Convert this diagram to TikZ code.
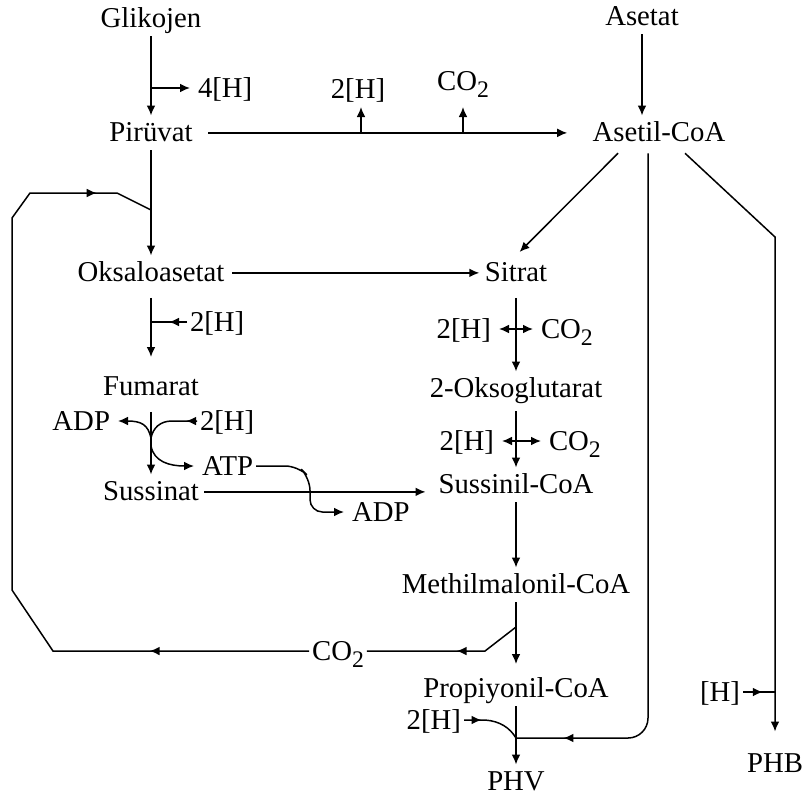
\documentclass[tikz,border=0pt]{standalone}
\usepackage{fontspec}
\setmainfont{Liberation Serif}
\usetikzlibrary{arrows.meta,calc,decorations.markings}
\newcommand{\cotwo}{CO\raisebox{-0.55ex}{\fontsize{9.5}{10}\selectfont 2}}

\begin{document}
\begin{tikzpicture}[
    x=0.4pt, y=-0.4pt,
    font=\fontsize{11.5}{14}\selectfont,
    met/.style={anchor=base, inner sep=2pt, text height=8pt, text depth=1.5pt},
    lbl/.style={inner sep=1pt, text height=7.5pt, text depth=0pt},
    wire/.style={line width=0.6pt},
    flow/.style={wire, -{Latex[length=4pt,width=3.5pt]}},
    side/.style={flow, shorten >=2pt},
    tip at/.style={postaction={decorate, decoration={markings,
        mark=at position #1 with {\arrow{Latex[length=4pt,width=3.5pt]}}}}}
]
\useasboundingbox (0,0) rectangle (804,802);

% metabolites
\node[met] (glik)   at (151,27)  {Glikojen};
\node[met] (piru)   at (151,141) {Pirüvat};
\node[met] (asetat) at (642,25)  {Asetat};
\node[met] (acoa)   at (659,141) {Asetil-CoA};
\node[met] (oksa)   at (151,281) {Oksaloasetat};
\node[met] (sitrat) at (516,281) {Sitrat};
\node[met] (fum)    at (151,395) {Fumarat};
\node[met] (okso)   at (516,397) {2-Oksoglutarat};
\node[met] (suss)   at (151,500) {Sussinat};
\node[met] (sucoa)  at (516,493) {Sussinil-CoA};
\node[met] (mmcoa)  at (516,593) {Methilmalonil-CoA};
\node[met] (pcoa)   at (516,697) {Propiyonil-CoA};
\node[met] (phv)    at (516,790) {PHV};
\node[met] (phb)    at (775,772) {PHB};

% side products
\node[lbl, anchor=west] (h4)   at (195,88)  {4[H]};
\node[lbl, anchor=base] (h2a)  at (358,98)  {2[H]};
\node[lbl, anchor=base] (co2a) at (463,90)  {\cotwo};
\node[lbl, anchor=west] (h2b)  at (187,322) {2[H]};
\node[lbl, anchor=east] (adp1) at (113,421) {ADP};
\node[lbl, anchor=west] (h2c)  at (197,421) {2[H]};
\node[lbl, anchor=west] (atp)  at (199,466) {ATP};
\node[lbl, anchor=west] (adp2) at (349,512) {ADP};
\node[lbl, anchor=east] (h2d)  at (494,329) {2[H]};
\node[lbl, anchor=west] (co2b) at (538,329) {\cotwo};
\node[lbl, anchor=east] (h2e)  at (497,441) {2[H]};
\node[lbl, anchor=west] (co2c) at (546,441) {\cotwo};
\node[lbl]              (co2d) at (338,651) {\cotwo};
\node[lbl, anchor=east] (h2f)  at (464,720) {2[H]};
\node[lbl, anchor=east] (hphb) at (743,692) {[H]};

% junctions
\coordinate (j4h) at (151,88);
\coordinate (jh)  at (361,133);
\coordinate (jc)  at (463,133);
\coordinate (jl)  at (151,210);
\coordinate (jo)  at (151,322);
\coordinate (jf)  at (151,438);
\coordinate (jf2) at (151,446);
\coordinate (js)  at (516,329);
\coordinate (je)  at (516,441);
\coordinate (jm)  at (516,627);
\coordinate (jv)  at (516,738);
\coordinate (kb)  at (775,237);
\coordinate (jb)  at (775,692);

% glikojen / asetat
\draw[flow] (glik) -- (piru);
\draw[side] (j4h) -- (h4);
\draw[flow, shorten <=4pt, shorten >=8pt] (piru.east) -- (piru.east -| acoa.west);
\draw[flow] (jh) -- ($(jh |- h2a.base)+(0,9)$);
\draw[flow] (jc) -- ($(jc |- co2a.base)+(0,17)$);
\draw[flow] (asetat) -- (asetat |- acoa.north);

% asetil-CoA
\draw[flow, shorten >=2pt] ($(acoa.south)+(-41,3)$) -- (sitrat.north);
\draw[wire, rounded corners=8pt, tip at=0.933] ($(acoa.south)+(-11,3)$) |- (jv);
\draw[flow, shorten >=6pt] ($(acoa.south)+(26,3)$) -- (kb) -- (phb);
\draw[wire, tip at=0.62] (hphb.east) -- (jb);

% left branch
\draw[flow] (piru) -- (oksa);
\draw[flow, shorten <=3pt, shorten >=5pt] (oksa) -- (fum);
\draw[wire, tip at=0.5] (h2b.west) -- (jo);
\draw[flow, shorten <=3pt] (fum) -- (suss);
\draw[side] (jf) .. controls (148,425) and (142,421) .. (adp1.east);
\draw[wire, tip at=0.2] (h2c.west) -- (172,421) .. controls (160,421) and (153,428) .. (jf);
\draw[side] (jf2) .. controls (154,462) and (170,466) .. (atp.west);
\draw[side, rounded corners=5pt] (atp.east) -- (298,466) -- (310,478) -- (310,512) -- (adp2.west);
\draw[flow, shorten >=3pt] (suss.east) -- (suss.east -| sucoa.west);

% right branch
\draw[flow, shorten <=1pt] (oksa.east) -- (oksa.east -| sitrat.west);
\draw[flow, shorten <=3pt] (sitrat) -- (okso);
\draw[side] (js) -- (h2d.east);
\draw[side] (js) -- (co2b.west);
\draw[flow, shorten <=2pt] (okso) -- (sucoa);
\draw[side] (je) -- (h2e.east);
\draw[side] (je) -- (co2c.west);
\draw[flow] (sucoa) -- (mmcoa);
\draw[flow, shorten >=3pt] (mmcoa) -- (pcoa);
\draw[flow] (pcoa) -- (phv);
\draw[wire, tip at=0.3] (h2f.east) -- (485,720) .. controls (500,721) and (510,728) .. (jv);

% CO2 recycling
\draw[wire, tip at=0.43] (jm) -- (485,651) -- (co2d.east);
\draw[wire, tip at=0.186, tip at=0.932] (co2d.west) -- (53,651) -- (12,590) -- (12,218) -- (30,193) -- (117,193) -- (jl);
\end{tikzpicture}
\end{document}
